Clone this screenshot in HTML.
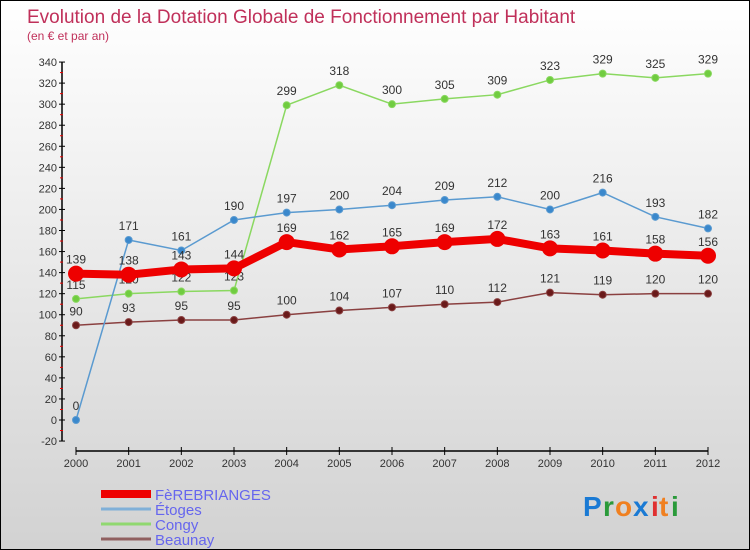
<!DOCTYPE html>
<html><head><meta charset="utf-8"><style>
body{margin:0;}
#c{position:relative;width:748px;height:548px;border:1px solid #000;background:linear-gradient(#ffffff,#d2d2d2);overflow:hidden;font-family:"Liberation Sans",sans-serif;}
svg text{font-family:"Liberation Sans",sans-serif;}
</style></head><body>
<div id="c">
<svg id="s" width="748" height="548">
<text x="26" y="22" font-size="19" fill="#c0305a">Evolution de la Dotation Globale de Fonctionnement par Habitant</text>
<text x="26" y="39" font-size="12" fill="#c0305a">(en € et par an)</text>
<g id="axes"></g><g id="series"></g><g id="legend"></g>
<g font-size="28" font-weight="bold">
<text x="582" y="515" fill="#1a7ad4">P</text><text x="602" y="515" fill="#2a9a3a">r</text><text x="614" y="515" fill="#f08020">o</text><text x="632" y="515" fill="#1a7ad4">x</text><text x="650" y="515" fill="#e03030">i</text><text x="658" y="515" fill="#f08020">t</text><text x="670" y="515" fill="#2a9a3a">i</text>
</g>
</svg>
</div>
<script>
const years=[2000,2001,2002,2003,2004,2005,2006,2007,2008,2009,2010,2011,2012];
const fere=[139,138,143,144,169,162,165,169,172,163,161,158,156];
const etoges=[0,171,161,190,197,200,204,209,212,200,216,193,182];
const congy=[115,120,122,123,299,318,300,305,309,323,329,325,329];
const beaunay=[90,93,95,95,100,104,107,110,112,121,119,120,120];
const yTicks=[-20,0,20,40,60,80,100,120,140,160,180,200,220,240,260,280,300,320,340];
const NS="http://www.w3.org/2000/svg";
function X(i){return 75+i*(632/12);}
function Y(v){return 419-v*(379/360);}
function mk(t,a,p){const e=document.createElementNS(NS,t);for(const k in a)e.setAttribute(k,a[k]);p.appendChild(e);return e;}
const ax=document.getElementById('axes');
const yl=mk('line',{x1:61,y1:Y(340),x2:61,y2:Y(-20),stroke:'#000','stroke-width':1.5},ax);


yTicks.forEach(v=>{
 mk('line',{x1:58,y1:Y(v),x2:64,y2:Y(v),stroke:'#000'},ax);
 if(v<340) mk('line',{x1:59,y1:Y(v+10),x2:62,y2:Y(v+10),stroke:'#e00'},ax);
 const t=mk('text',{x:56,y:Y(v)+4,'font-size':11,fill:'#333','text-anchor':'end'},ax);t.textContent=v;
 
 
});
const xl=mk('line',{x1:X(0),y1:450,x2:X(12),y2:450,stroke:'#000','stroke-width':1.5},ax);


years.forEach((y,i)=>{
 mk('line',{x1:X(i),y1:446,x2:X(i),y2:454,stroke:'#000'},ax);
 const t=mk('text',{x:X(i),y:466,'font-size':11,fill:'#333','text-anchor':'middle'},ax);t.textContent=y;
 
 
});
const sg=document.getElementById('series');
function series(data,color,dot,w,r,name){
 const g=mk('g',{},sg);
 
 
 mk('polyline',{points:data.map((v,i)=>X(i)+','+Y(v)).join(' '),fill:'none',stroke:color,'stroke-width':w},g);
 data.forEach((v,i)=>{
  const c=mk('circle',{cx:X(i),cy:Y(v),r:r,fill:dot,stroke:color,'stroke-width':1},g);
  
  
  const t=mk('text',{x:X(i),y:Y(v)-10,'font-size':12,fill:'#333','text-anchor':'middle'},g);t.textContent=v;
  
  
 });
}
series(beaunay,'#8a4040','#6a1a1a',1.5,3.5,'beaunay');
series(congy,'#8ad860','#70cc40',1.5,3.5,'congy');
series(etoges,'#5a9ad0','#3a88cc',1.5,3.5,'etoges');
series(fere,'#ee0000','#ee0000',8,7.5,'fere');
const lg=document.getElementById('legend');
const items=[['FèREBRIANGES','#ee0000',8],['Étoges','#80b0d8',3],['Congy','#90d870',3],['Beaunay','#906060',3]];
items.forEach((it,i)=>{
 const y=493+i*15;
 const l=mk('line',{x1:100,y1:y,x2:150,y2:y,stroke:it[1],'stroke-width':it[2]},lg);
 
 
 const t=mk('text',{x:154,y:y+6,'font-size':15,fill:'#6666ee'},lg);t.textContent=it[0];
 
 
});
</script>
</body></html>
